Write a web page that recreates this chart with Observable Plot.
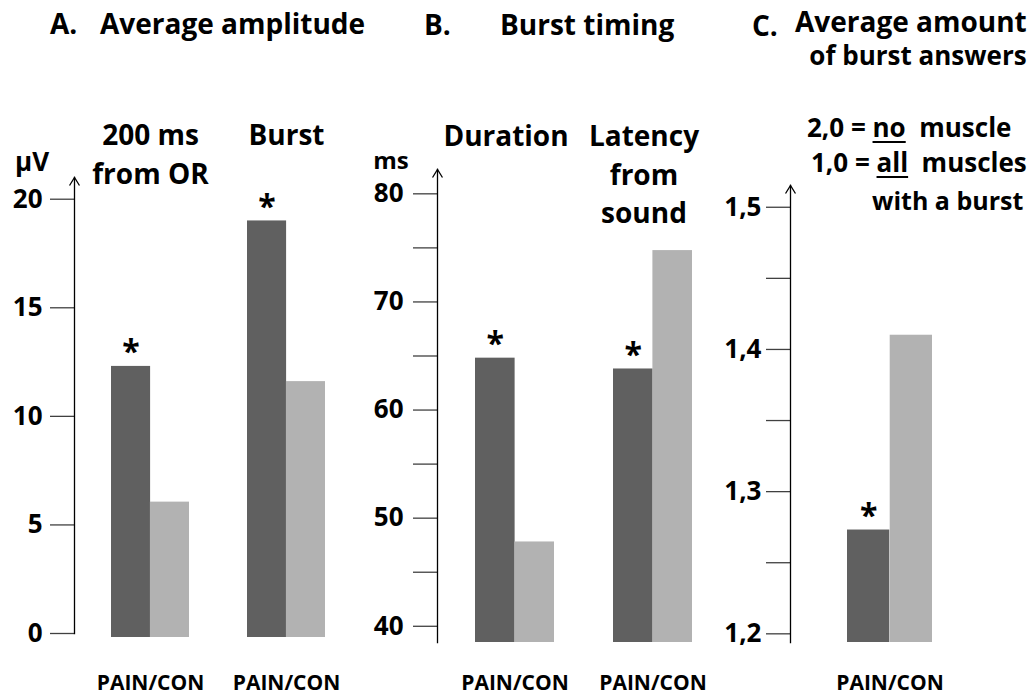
<!DOCTYPE html>
<html><head><meta charset="utf-8">
<script src="https://cdn.jsdelivr.net/npm/d3@7"></script>
<script src="https://cdn.jsdelivr.net/npm/@observablehq/plot@0.6"></script>
<style>
body{margin:0;background:#fff;}
#chart{position:relative;width:1033px;height:696px;font-family:"Open Sans",sans-serif;font-weight:700;color:#000;overflow:hidden;}
#chart svg{position:absolute;top:0;}
.t{position:absolute;white-space:pre;line-height:1;}
.t u{text-decoration-thickness:2px;text-underline-offset:4px;}
</style></head><body><div id="chart"></div>
<script>
// ---------- data ----------
const conditions = ["PAIN", "CON"];
const conditionColors = ["#606060", "#b2b2b2"];

// A. Average amplitude (µV)
const groupsA = ["200 ms", "Burst"];
const groupLabelsA = ["200 ms\nfrom OR", "Burst"];
const painA = [12.3, 19.0];
const conA = [6.05, 11.6];
const sigA = [true, true];
const ticksA = [0, 5, 10, 15, 20];
const labeledTicksA = [0, 5, 10, 15, 20];

// B. Burst timing (ms)
const groupsB = ["Duration", "Latency"];
const groupLabelsB = ["Duration", "Latency\nfrom\nsound"];
const painB = [64.8, 63.8];
const conB = [47.8, 74.75];
const sigB = [true, true];
const ticksB = [40, 45, 50, 55, 60, 65, 70, 75, 80];
const labeledTicksB = [40, 50, 60, 70, 80];

// C. Average amount of burst answers
const groupsC = ["Answers"];
const groupLabelsC = [""];
const painC = [1.273];
const conC = [1.41];
const sigC = [true];
const ticksC = [1.2, 1.25, 1.3, 1.35, 1.4, 1.45, 1.5];
const labeledTicksC = [1.2, 1.3, 1.4, 1.5];

// ---------- drawing ----------
const chart = document.getElementById("chart");
const chevron = {
  draw(ctx, size) {
    const r = Math.sqrt(size / Math.PI);
    ctx.moveTo(-0.62 * r, r);
    ctx.lineTo(0, 0);
    ctx.lineTo(0.62 * r, r);
  }
};

function panel(o) {
  const ml = 74;
  const bw = d3.scaleBand(o.groups, [ml, o.width]).paddingInner(o.pi).paddingOuter(o.po).bandwidth();
  const rows = o.groups.flatMap((g, i) => [
    {group: g, cond: conditions[0], value: o.pain[i], sig: o.sig[i]},
    {group: g, cond: conditions[1], value: o.con[i], sig: false}
  ]);
  const labelRows = o.groups.map((g, i) => ({group: g, label: o.labels[i]})).filter(d => d.label);
  const svg = Plot.plot({
    width: o.width, height: 696,
    marginLeft: ml, marginRight: 0, marginTop: o.marginTop, marginBottom: o.marginBottom,
    style: {background: "transparent", fontFamily: "Open Sans", fontWeight: 700, color: "#000", overflow: "visible"},
    x: {domain: o.groups, paddingInner: o.pi, paddingOuter: o.po, axis: null},
    y: {domain: o.domain, axis: null},
    marks: [
      Plot.barY(rows.filter(d => d.cond === conditions[0]), {x: "group", y1: o.base, y2: "value", fill: conditionColors[0], insetLeft: 0, insetRight: bw / 2, insetBottom: o.insetBottom}),
      Plot.barY(rows.filter(d => d.cond === conditions[1]), {x: "group", y1: o.base, y2: "value", fill: conditionColors[1], insetLeft: bw / 2, insetRight: 0, insetBottom: o.insetBottom}),
      Plot.axisY(o.ticks, {label: null, tickSize: 24, tickPadding: o.tickPadding, tickFormat: d => o.labeled.includes(d) ? o.fmt(d) : "", fontSize: 26, stroke: "#404040", strokeWidth: 1.3}),
      Plot.frame({anchor: "left", stroke: "#000", strokeWidth: 1.3}),
      Plot.dot([0], {frameAnchor: "top-left", symbol: chevron, r: 8, stroke: "#000", fill: "none", strokeWidth: 1.3}),
      Plot.axisX(o.groups, {label: null, tickSize: 0, tickPadding: o.xPad, tickFormat: () => conditions.join("/"), fontSize: 21}),
      Plot.text(rows.filter(d => d.sig), {x: "group", y: "value", text: () => "*", dx: -bw / 4, dy: -3, lineAnchor: "bottom", fontSize: 32}),
      Plot.text(labelRows, {x: "group", text: "label", frameAnchor: "top", lineAnchor: "top", dy: o.labelDy, dx: o.labelDx, fontSize: 28, lineHeight: 1.38})
    ]
  });
  svg.style.left = o.left + "px";
  chart.appendChild(svg);
}

panel({groups: groupsA, labels: groupLabelsA, pain: painA, con: conA, sig: sigA,
  ticks: ticksA, labeled: labeledTicksA, fmt: d => String(d),
  domain: [0, 21], base: 0, insetBottom: -4,
  left: 0, width: 362, marginTop: 177, marginBottom: 63, pi: 0.43, po: 0.27,
  tickPadding: 8, xPad: 42, labelDy: -60, labelDx: 0});

panel({groups: groupsB, labels: groupLabelsB, pain: painB, con: conB, sig: sigB,
  ticks: ticksB, labeled: labeledTicksB, fmt: d => String(d),
  domain: [38.5, 82.25], base: 38.5, insetBottom: 0,
  left: 363, width: 367, marginTop: 169, marginBottom: 54, pi: 0.43, po: 0.275,
  tickPadding: 10, xPad: 33, labelDy: -51, labelDx: -9});

panel({groups: groupsC, labels: groupLabelsC, pain: painC, con: conC, sig: sigC,
  ticks: ticksC, labeled: labeledTicksC, fmt: d => d3.format(".1f")(d).replace(".", ","),
  domain: [1.1939, 1.5153], base: 1.1939, insetBottom: 0,
  left: 716, width: 273, marginTop: 185, marginBottom: 54, pi: 0, po: 0.665,
  tickPadding: 5, xPad: 33, labelDy: -50, labelDx: 0});

// ---------- titles and annotations ----------
function place(html, x, baseline, size, anchor) {
  const d = document.createElement("div");
  d.className = "t";
  d.style.fontSize = size + "px";
  d.style.top = (baseline - 0.888 * size) + "px";
  d.style.left = x + "px";
  if (anchor === "middle") d.style.transform = "translateX(-50%)";
  d.innerHTML = html;
  chart.appendChild(d);
}
place("A.", 50, 33.5, 28);
place("Average amplitude", 100, 33.5, 28);
place("B.", 424, 35, 28);
place("Burst timing", 500, 35, 28);
place("C.", 752, 36, 28);
place("Average amount", 795, 32, 28);
place("of burst answers", 918, 65, 26, "middle");
place("µV", 32, 171.5, 26, "middle");
place("ms", 391, 169.5, 24, "middle");
place("2,0 = <u>no</u>  muscle", 807, 137, 26);
place("1,0 = <u>all</u>  muscles", 811, 172, 26);
place("with a burst", 872, 210, 25);
</script></body></html>
